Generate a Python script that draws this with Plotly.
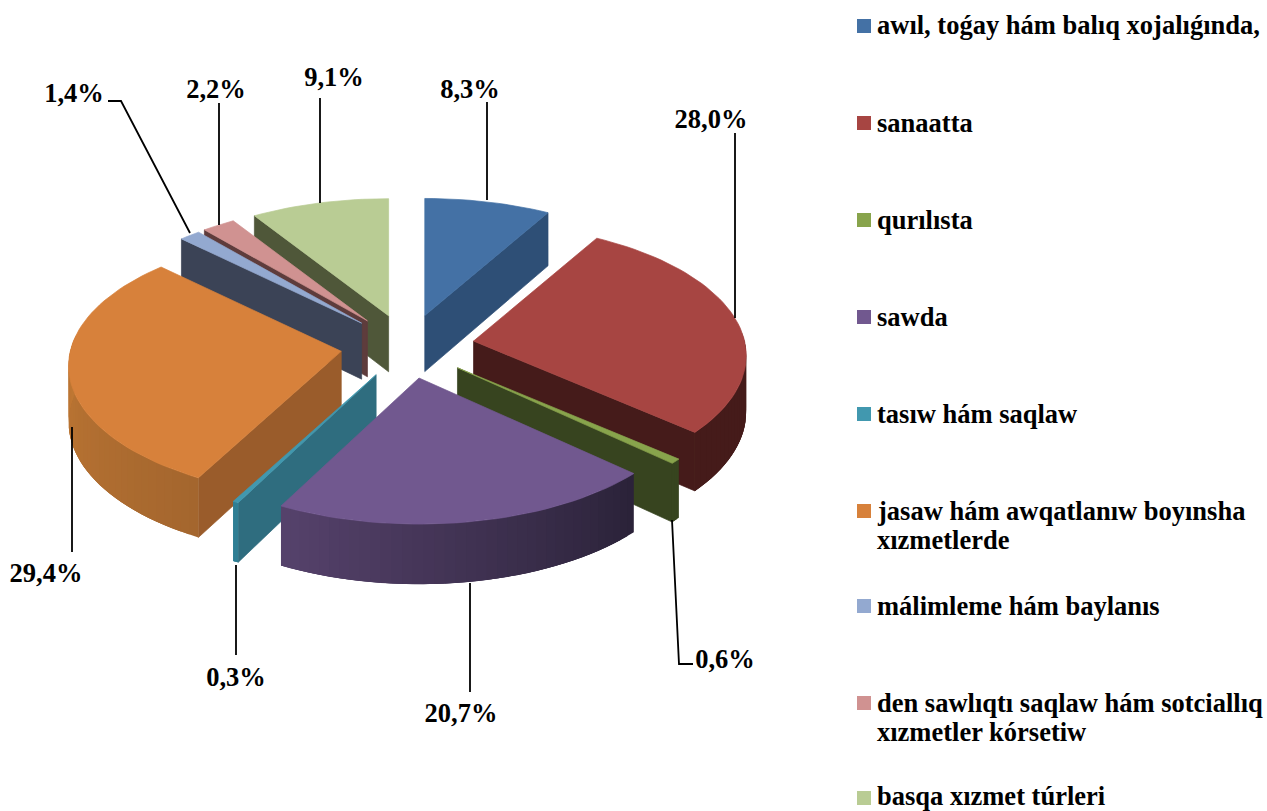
import math
import plotly.graph_objects as go

categories = [
    "awıl, toǵay hám balıq xojalıǵında,",
    "sanaatta",
    "qurılısta",
    "sawda",
    "tasıw hám saqlaw",
    "jasaw hám awqatlanıw boyınsha<br>xızmetlerde",
    "málimleme hám baylanıs",
    "den sawlıqtı saqlaw hám sotciallıq<br>xızmetler kórsetiw",
    "basqa xızmet túrleri",
]
shares = [8.3, 28.0, 0.6, 20.7, 0.3, 29.4, 1.4, 2.2, 9.1]

top_colors = ["#4471A5", "#A74542", "#88A44C", "#71588F", "#4198AF", "#D7813B", "#93A9D0", "#D09291", "#B9CC94"]
face_colors = ["#2E4F76", "#451B1A", "#37441F", "#2A2238", "#2F6D7F", "#9A5C2B", "#3B4356", "#5E3C3C", "#4F5739"]
wall_from = ["#2E4F76", "#451B1A", "#37441F", "#2A2238", "#2F7F94", "#A4662E", "#3B4356", "#5E3C3C", "#4F5739"]
wall_to = ["#2E4F76", "#451B1A", "#37441F", "#56426C", "#2F7F94", "#CF8237", "#3B4356", "#5E3C3C", "#4F5739"]

draw_order = [8, 0, 7, 6, 1, 5, 2, 4, 3]

CX, CY, RX, RY = 407.5, 346.5, 271, 130
PERSP, EXPLODE_X, EXPLODE_Y, DEPTH = 0.11, 67, 32, 56

label_pos = [(470, 91), (711, 121), (725, 661), (461, 715), (236, 679), (46, 575), (74, 95), (216, 91), (334, 79)]
leaders = [
    [(487, 102), (487, 200)],
    [(735, 133), (735, 318)],
    [(672, 520), (679, 664), (693, 664)],
    [(470, 583), (470, 692)],
    [(236, 565), (236, 655)],
    [(72, 427), (72, 552)],
    [(108, 101), (121, 101), (190, 233)],
    [(219, 103), (219, 225)],
    [(320, 98), (320, 203)],
]
legend_y = [26, 123, 220, 317, 414, 511, 606, 703, 798]
legend_text_y = [25, 123, 220, 317, 414, 511, 606, 703, 796]
legend_x = 864
legend_text_x = 875
LINE_GAP = 29
LABEL_FONT = 26.5


def project(theta, apex):
    X, Y = math.sin(theta), -math.cos(theta)
    s = 1 / (1 - PERSP * Y)
    return apex[0] + RX * X * s, apex[1] + RY * Y * s, s


def wall_height(s):
    return DEPTH * (1 + 0.6 * (s - 1))


def mix(a, b, t):
    ca = [int(a[i:i + 2], 16) for i in (1, 3, 5)]
    cb = [int(b[i:i + 2], 16) for i in (1, 3, 5)]
    return "#%02X%02X%02X" % tuple(round(p + (q - p) * t) for p, q in zip(ca, cb))


fig = go.Figure()


def poly(xs, ys, color, edge=0.7):
    fig.add_trace(go.Scatter(
        x=list(xs) + [xs[0]], y=list(ys) + [ys[0]], mode="lines", fill="toself",
        fillcolor=color, line=dict(color=color, width=edge),
        hoverinfo="skip", showlegend=False,
    ))


bounds = []
acc = 0.0
total = sum(shares)
for v in shares:
    bounds.append((acc / total * 2 * math.pi, (acc + v) / total * 2 * math.pi))
    acc += v

for i in draw_order:
    a0, a1 = bounds[i]
    mid = (a0 + a1) / 2
    apex = (CX + EXPLODE_X * math.sin(mid), CY - EXPLODE_Y * math.cos(mid))
    n = max(3, int((a1 - a0) / math.radians(2)))
    thetas = [a0 + (a1 - a0) * k / n for k in range(n + 1)]
    pts = [project(t, apex) for t in thetas]

    # cut faces that look towards the viewer
    for ang, visible in ((a0, math.sin(a0) < 0), (a1, 0 < math.sin(a1))):
        if visible:
            x, y, s = project(ang, apex)
            poly([apex[0], x, x, apex[0]], [apex[1], y, y + wall_height(s), apex[1] + DEPTH], face_colors[i])

    # outer wall, shaded left to right: every band runs on under the next one, so no seams show
    vis = [k for k in range(n) if -math.cos((thetas[k] + thetas[k + 1]) / 2) >= -0.08]
    for k in vis:
        end = min(k + 3, n)
        band = pts[k:end + 1]
        xs = [p[0] for p in band] + [p[0] for p in reversed(band)]
        ys = [p[1] for p in band] + [p[1] + wall_height(p[2]) for p in reversed(band)]
        poly(xs, ys, mix(wall_from[i], wall_to[i], (k + 0.5) / n), edge=0)

    # top surface
    poly([apex[0]] + [p[0] for p in pts], [apex[1]] + [p[1] for p in pts], top_colors[i])

# leader lines
for seg in leaders:
    fig.add_trace(go.Scatter(x=[p[0] for p in seg], y=[p[1] for p in seg], mode="lines",
                             line=dict(color="#000000", width=1.8), hoverinfo="skip", showlegend=False))

# data labels
fig.add_trace(go.Scatter(
    x=[p[0] for p in label_pos], y=[p[1] for p in label_pos], mode="text",
    text=[f"<b>{v:.1f}%</b>".replace(".", ",") for v in shares],
    textposition="middle center",
    textfont=dict(family="Liberation Serif", size=LABEL_FONT, color="#000000"),
    hoverinfo="skip", showlegend=False,
))

# legend swatches
fig.add_trace(go.Scatter(
    x=[legend_x] * len(categories), y=legend_y, mode="markers",
    marker=dict(symbol="square", size=14, color=top_colors, line=dict(width=0)),
    hoverinfo="skip", showlegend=False,
))

# legend texts
for name, y in zip(categories, legend_text_y):
    for j, part in enumerate(name.split("<br>")):
        fig.add_annotation(x=legend_text_x, y=y + j * LINE_GAP, text=f"<b>{part}</b>", showarrow=False,
                           xref="x", yref="y", xanchor="left", yanchor="middle", align="left",
                           font=dict(family="Liberation Serif", size=LABEL_FONT, color="#000000"))

fig.update_layout(
    width=1267, height=811, autosize=False,
    margin=dict(l=0, r=0, t=0, b=0),
    paper_bgcolor="#FFFFFF", plot_bgcolor="#FFFFFF",
    xaxis=dict(range=[0, 1267], visible=False, fixedrange=True),
    yaxis=dict(range=[811, 0], visible=False, fixedrange=True),
)
fig.write_html("out.html", config={"displayModeBar": False},
               post_script="document.body.style.margin='0';document.body.style.overflow='hidden';")
